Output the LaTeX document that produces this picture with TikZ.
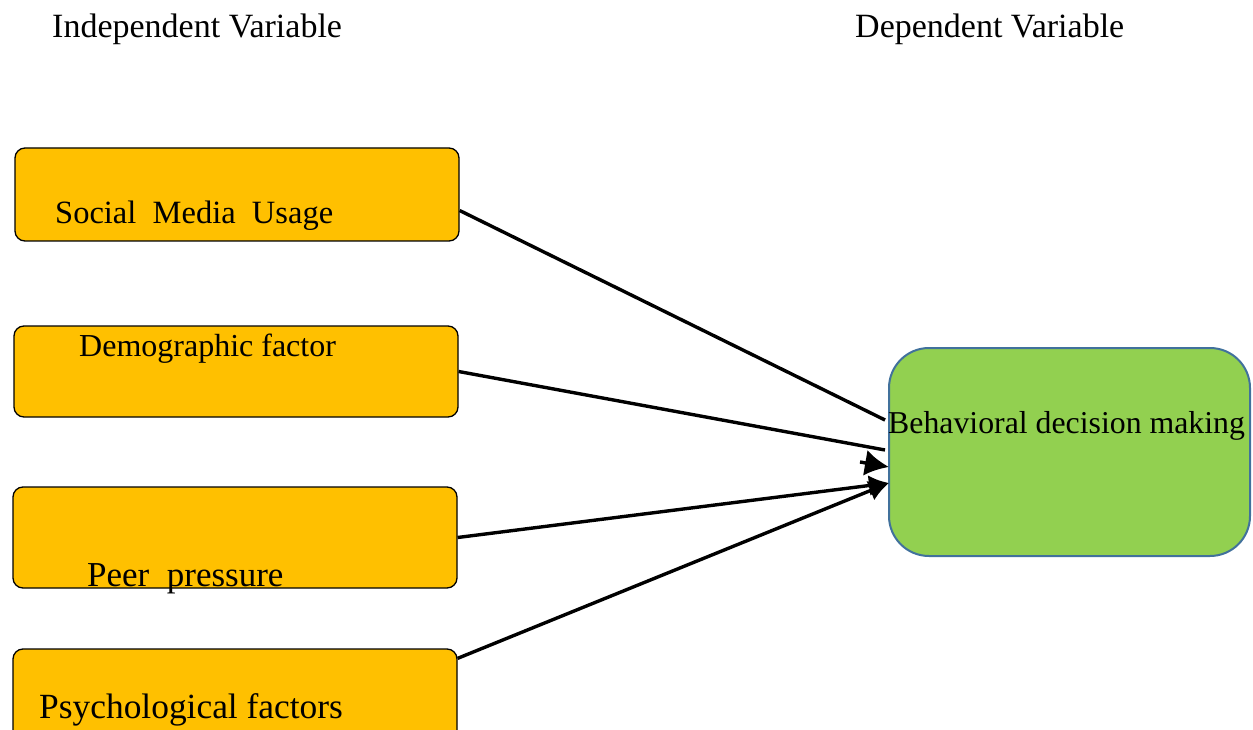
\documentclass[tikz,border=0pt]{standalone}
\usepackage{fontspec}
\setmainfont{Liberation Serif}
\usetikzlibrary{arrows.meta, positioning, calc}
\definecolor{ivorange}{HTML}{FFC000}
\definecolor{dvgreen}{HTML}{92D050}
\definecolor{dvblue}{HTML}{41719C}
\tikzset{ivbox/.style={draw, fill=ivorange, line width=1.3pt, rounded corners=10pt, minimum width=444pt, inner sep=0pt},
         dvbox/.style={draw=dvblue, fill=dvgreen, line width=2pt, rounded corners=40pt, minimum width=361pt, minimum height=208pt, inner sep=0pt},
         lbl/.style={anchor=base west, inner sep=0pt, font=\fontsize{34}{40}\selectfont},
         link/.style={line width=3.4pt},
         >={Latex[length=20pt, width=21pt]}}

\begin{document}
\begin{tikzpicture}[x=1pt, y=-1pt]
    \useasboundingbox (0,0) rectangle (1253,730);
    % titles
    \node[lbl] (ivtitle) at (52,38) {Independent Variable};
    \node[lbl] (dvtitle) at (855,38) {Dependent Variable};

    % independent variables
    \node[ivbox, minimum height=93pt] (smu) at (237,194.5) {};
    \node[ivbox, minimum height=91pt] (demo) at (236,371.5) {};
    \node[ivbox, minimum height=101pt] (peer) at (235,537.5) {};
    \node[ivbox, minimum height=110pt] (psych) at (235,704) {};
    \node[lbl, font=\fontsize{32.5}{38}\selectfont] (smutext) at (55,224) {Social\ \ Media\ \ Usage};
    \node[lbl, font=\fontsize{32}{38}\selectfont] (demotext) at (79,356) {Demographic factor};
    \node[lbl, font=\fontsize{35}{40}\selectfont] (peertext) at (87,586) {Peer\ \ pressure};
    \node[lbl, font=\fontsize{35.4}{40}\selectfont] (psychtext) at (39,718) {Psychological factors};

    % dependent variable
    \node[dvbox] (bdm) at (1069.5,452) {};
    \node[lbl, font=\fontsize{31.8}{38}\selectfont] (bdmtext) at (888,433) {Behavioral decision making};

    \coordinate (in1) at (885,420);
    \coordinate (in2) at (885,450);
    \coordinate (in3) at (889,483);
    \coordinate (stub) at (860,462);
    \coordinate (tip) at (889,467);

    \draw[link] ($(smu.east)+(0,16)$) -- (in1);
    \draw[link] (demo.east) -- (in2);
    \draw[link, -{Latex[length=24pt, width=26pt]}] (stub) -- (tip);
    \draw[link, ->] (peer.east) -- (in3);
    \draw[link, ->] ($(psych.north east)+(0,10)$) -- (in3);
\end{tikzpicture}
\end{document}
